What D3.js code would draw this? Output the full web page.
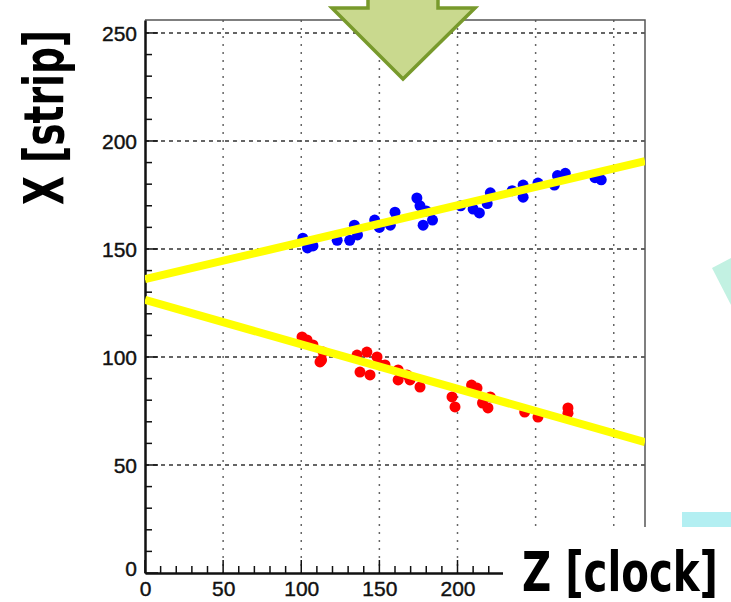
<!DOCTYPE html>
<html>
<head>
<meta charset="utf-8">
<script src="https://cdn.jsdelivr.net/npm/d3@7"></script>
<style>
  body { margin: 0; background: #fff; }
  svg { display: block; }
  .tick text { font-family: "Liberation Sans", Arial, sans-serif; font-size: 21px; fill: #111; stroke: #111; stroke-width: 0.4px; }
  .big { font-family: "DejaVu Sans Condensed", "Liberation Sans Narrow", sans-serif; font-size: 56px; font-weight: bold; }
</style>
</head>
<body>
<div id="chart"></div>
<script>
// hits on the upper track (Z clock, X strip)
var blueZ = [101, 104, 107.5, 123, 131, 134, 136, 147, 150, 157, 160, 174, 176, 180, 178, 184,
             202, 210, 214, 219, 221, 235, 242, 242, 251.5, 262, 264, 269, 288, 292];
var blueX = [155, 150.5, 151.4, 154, 154, 161, 156.5, 163.4, 160, 161, 167, 173.6, 170, 167.6, 161, 163.4,
             170, 168.5, 166.7, 171, 176, 177, 179.6, 174, 180.5, 179.6, 184, 185, 183, 182];
// hits on the lower track
var redZ = [100.5, 103.7, 107.5, 114, 113, 112, 135.7, 142, 137.6, 144, 148.5, 150.4, 153.6,
            162, 162, 167.7, 169.6, 176, 196.5, 198.4, 209, 212.5, 216, 219.5, 221, 243, 251.5, 270.7, 270.7];
var redX = [109.3, 107.9, 105.6, 102.3, 98.6, 97.7, 100.9, 102.3, 93, 91.7, 100, 96.3, 96.3,
            94, 89.4, 91.7, 89.4, 86.1, 81.5, 76.9, 87, 85.6, 78.7, 76.4, 81.5, 74.5, 72.2, 76.4, 74];
// fitted lines: [z, x] at the two ends
var fitUpper = [[0, 136], [320, 190.7]];
var fitLower = [[0, 126.4], [320, 60.6]];

var xGrid = [50, 100, 150, 200, 250, 300];
var xLabels = [0, 50, 100, 150, 200];   // 250 and 300 sit under the white label box
var yTicks = [0, 50, 100, 150, 200, 250];

var width = 731, height = 602;
var plotL = 145, plotR = 645, plotT = 20, plotB = 573;

var xScale = d3.scaleLinear().domain([0, 320]).range([plotL, plotR]);
var yScale = d3.scaleLinear().domain([0, 256]).range([plotB, plotT]);

var svg = d3.select("#chart").append("svg")
    .attr("width", width)
    .attr("height", height);

// background decorations from the slide
svg.append("path")
    .attr("d", "M712,268 L731,258 L731,305 Z")
    .attr("fill", "#c2f1e2");
svg.append("rect")
    .attr("x", 682).attr("y", 512)
    .attr("width", 49).attr("height", 15)
    .attr("fill", "#b3eff2");

// grid
svg.append("g").selectAll("line")
    .data(xGrid)
    .enter().append("line")
    .attr("x1", function (d) { return xScale(d); })
    .attr("x2", function (d) { return xScale(d); })
    .attr("y1", plotT).attr("y2", plotB)
    .attr("stroke", "#666")
    .attr("stroke-width", 1.5)
    .attr("stroke-dasharray", "2,6");

svg.append("g").selectAll("line")
    .data(yTicks.filter(function (d) { return d > 0; }))
    .enter().append("line")
    .attr("x1", plotL).attr("x2", plotR)
    .attr("y1", function (d) { return yScale(d); })
    .attr("y2", function (d) { return yScale(d); })
    .attr("stroke", "#333")
    .attr("stroke-width", 1.5)
    .attr("stroke-dasharray", "4,4");

// frame (top and right)
svg.append("path")
    .attr("d", "M" + plotL + "," + plotT + "H" + plotR + "V" + plotB)
    .attr("fill", "none")
    .attr("stroke", "#555")
    .attr("stroke-width", 1.5);

// minor ticks
var xMinor = d3.range(0, 321, 10);
var yMinor = d3.range(0, 256, 10);
svg.append("g").selectAll("line")
    .data(xMinor)
    .enter().append("line")
    .attr("x1", function (d) { return xScale(d); })
    .attr("x2", function (d) { return xScale(d); })
    .attr("y1", plotB)
    .attr("y2", function (d) { return plotB - (d % 50 === 0 ? 13 : 7); })
    .attr("stroke", "#111").attr("stroke-width", 1.5);
svg.append("g").selectAll("line")
    .data(yMinor)
    .enter().append("line")
    .attr("y1", function (d) { return yScale(d); })
    .attr("y2", function (d) { return yScale(d); })
    .attr("x1", plotL)
    .attr("x2", function (d) { return plotL + (d % 50 === 0 ? 13 : 7); })
    .attr("stroke", "#111").attr("stroke-width", 1.5);

// axes
var xAxis = d3.axisBottom(xScale).tickValues(xLabels).tickSize(0).tickPadding(6);
var gx = svg.append("g")
    .attr("transform", "translate(0," + plotB + ")")
    .call(xAxis);
gx.select(".domain").attr("stroke", "#111").attr("stroke-width", 2.5);
gx.selectAll(".tick text").attr("dy", "0.72em").attr("y", 8);

var yAxis = d3.axisLeft(yScale).tickValues(yTicks).tickSize(0).tickPadding(8);
var gy = svg.append("g")
    .attr("transform", "translate(" + plotL + ",0)")
    .call(yAxis);
gy.select(".domain").attr("stroke", "#111").attr("stroke-width", 2.5);
gy.selectAll(".tick text").attr("dy", "0.36em");
gy.selectAll(".tick").filter(function (d) { return d === 0; })
    .select("text").attr("dy", "0.1em");

// fitted lines
var line = d3.line()
    .x(function (d) { return xScale(d[0]); })
    .y(function (d) { return yScale(d[1]); });

svg.append("clipPath").attr("id", "plotclip")
    .append("rect")
    .attr("x", plotL).attr("y", plotT)
    .attr("width", plotR - plotL).attr("height", plotB - plotT);

// hits
var blue = blueZ.map(function (z, i) { return { z: z, x: blueX[i] }; });
var red = redZ.map(function (z, i) { return { z: z, x: redX[i] }; });

svg.append("g").selectAll("circle")
    .data(blue)
    .enter().append("circle")
    .attr("cx", function (d) { return xScale(d.z); })
    .attr("cy", function (d) { return yScale(d.x); })
    .attr("r", 5.5)
    .attr("fill", "#0000ff");

svg.append("g").selectAll("circle")
    .data(red)
    .enter().append("circle")
    .attr("cx", function (d) { return xScale(d.z); })
    .attr("cy", function (d) { return yScale(d.x); })
    .attr("r", 5.5)
    .attr("fill", "#ff0000");

[fitUpper, fitLower].forEach(function (f) {
    svg.append("path")
        .attr("d", line(f))
        .attr("clip-path", "url(#plotclip)")
        .attr("fill", "none")
        .attr("stroke", "#ffff00")
        .attr("stroke-width", 8);
});

// white box holding the Z label
svg.append("rect")
    .attr("x", 503).attr("y", 527)
    .attr("width", width - 503).attr("height", height - 527)
    .attr("fill", "#fff");

svg.append("text")
    .attr("class", "big")
    .attr("x", 522).attr("y", 591)
    .attr("textLength", 196)
    .attr("lengthAdjust", "spacingAndGlyphs")
    .text("Z [clock]");

svg.append("text")
    .attr("class", "big")
    .attr("transform", "translate(63,205) rotate(-90)")
    .attr("textLength", 175)
    .attr("lengthAdjust", "spacingAndGlyphs")
    .text("X [strip]");

// green arrow
svg.append("path")
    .attr("d", "M368,-4 L438,-4 L438,8 L475,8 L403,79 L332,8 L368,8 Z")
    .attr("fill", "#c9d98e")
    .attr("stroke", "#789a2c")
    .attr("stroke-width", 3.5)
    .attr("stroke-linejoin", "miter");
</script>
</body>
</html>
